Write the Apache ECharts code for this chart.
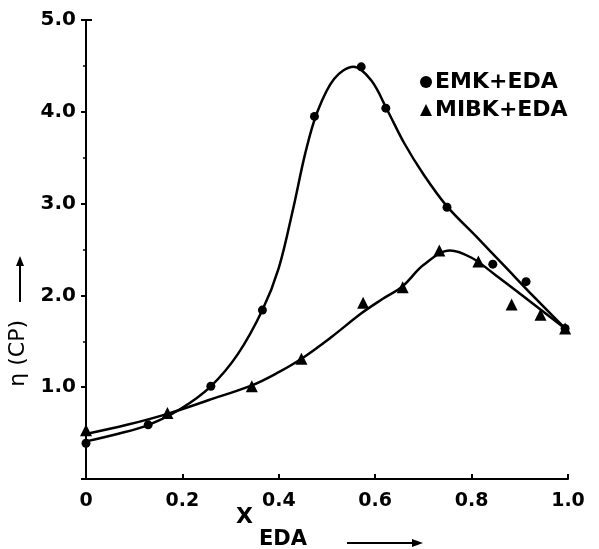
<!DOCTYPE html>
<html>
<head>
<meta charset="utf-8">
<script src="https://cdn.jsdelivr.net/npm/echarts@6/dist/echarts.min.js"></script>
<style>
  html, body { margin: 0; padding: 0; background: #fff; }
  #chart { width: 599px; height: 549px; }
</style>
</head>
<body>
<div id="chart"></div>
<script>
// measured points (x = mole fraction EDA, y = viscosity in cP)
const emkPoints = [[0, 0.39], [0.129, 0.59], [0.259, 1.01], [0.366, 1.84], [0.474, 3.95], [0.571, 4.49], [0.622, 4.04], [0.749, 2.96], [0.844, 2.34], [0.913, 2.15], [0.994, 1.64]]
const mibkPoints = [[0, 0.53], [0.169, 0.72], [0.344, 1.01], [0.447, 1.31], [0.575, 1.92], [0.657, 2.09], [0.733, 2.49], [0.814, 2.37], [0.883, 1.9], [0.943, 1.79], [0.994, 1.64]]
// drawn (hand fitted) curves
const emkCurve = [[0, 0.41], [0.065, 0.49], [0.13, 0.59], [0.195, 0.76], [0.259, 1.01], [0.315, 1.36], [0.366, 1.84], [0.4, 2.3], [0.43, 2.95], [0.455, 3.55], [0.48, 4.0], [0.515, 4.36], [0.555, 4.49], [0.592, 4.34], [0.625, 4.02], [0.66, 3.66], [0.7, 3.32], [0.749, 2.97], [0.81, 2.64], [0.87, 2.31], [0.93, 1.98], [0.994, 1.64]]
const mibkCurve = [[0, 0.49], [0.085, 0.59], [0.169, 0.71], [0.255, 0.86], [0.344, 1.02], [0.395, 1.15], [0.447, 1.31], [0.51, 1.55], [0.57, 1.8], [0.615, 1.96], [0.657, 2.1], [0.7, 2.33], [0.755, 2.49], [0.8, 2.41], [0.85, 2.22], [0.92, 1.94], [0.994, 1.64]]

const xTicks = ['0', '0.2', '0.4', '0.6', '0.8', '1.0']
const yTicks = ['', '1.0', '2.0', '3.0', '4.0', '5.0']

const chart = echarts.init(document.getElementById('chart'))
const font = 'DejaVu Sans'
const option = {
  backgroundColor: '#fff',
  animation: false,
  grid: { left: 86, right: 31, top: 20, bottom: 70 },
  legend: {
    orient: 'vertical',
    left: 415,
    top: 66,
    itemGap: 6,
    itemWidth: 12,
    itemHeight: 12,
    data: [
      { name: 'EMK+EDA', icon: 'circle', itemStyle: { color: '#000', opacity: 1 } },
      { name: 'MIBK+EDA', icon: 'triangle', itemStyle: { color: '#000', opacity: 1 } },
    ],
    textStyle: { fontFamily: font, fontWeight: 'bold', fontSize: 22, color: '#000', padding: [0, 0, 0, -2] },
  },
  xAxis: {
    type: 'value',
    min: 0,
    max: 1,
    interval: 0.2,
    splitLine: { show: false },
    axisLine: { lineStyle: { color: '#000', width: 2 } },
    axisTick: { inside: true, length: 5, lineStyle: { color: '#000', width: 2 } },
    axisLabel: {
      margin: 13,
      color: '#000',
      fontFamily: font,
      fontWeight: 'bold',
      fontSize: 19,
      formatter: function (v) {
        return xTicks[Math.round(v / 0.2)]
      },
    },
  },
  yAxis: {
    type: 'value',
    min: 0,
    max: 5,
    interval: 1,
    splitLine: { show: false },
    axisLine: { show: true, lineStyle: { color: '#000', width: 2 } },
    axisTick: { show: true, inside: false, length: 5, lineStyle: { color: '#000', width: 2 } },
    minorTick: { show: true, splitNumber: 2, length: 3, lineStyle: { color: '#000', width: 1.5 } },
    axisLabel: {
      margin: 10,
      color: '#000',
      fontFamily: font,
      fontWeight: 'bold',
      fontSize: 20,
      formatter: function (v) {
        return yTicks[Math.round(v)]
      },
    },
  },
  series: [
    {
      name: 'emk curve',
      type: 'line',
      data: emkCurve,
      smooth: 0.35,
      showSymbol: false,
      lineStyle: { color: '#000', width: 2.5 },
    },
    {
      name: 'mibk curve',
      type: 'line',
      data: mibkCurve,
      smooth: 0.35,
      showSymbol: false,
      lineStyle: { color: '#000', width: 2.5 },
    },
    {
      name: 'EMK+EDA',
      type: 'scatter',
      data: emkPoints,
      symbol: 'circle',
      symbolSize: 9,
      itemStyle: { color: '#000', opacity: 1 },
    },
    {
      name: 'MIBK+EDA',
      type: 'scatter',
      data: mibkPoints,
      symbol: 'triangle',
      symbolSize: 12,
      itemStyle: { color: '#000', opacity: 1 },
    },
  ],
  graphic: [
    // top tick of y axis
    { type: 'line', shape: { x1: 86, y1: 20, x2: 92, y2: 20 }, style: { stroke: '#000', lineWidth: 2 } },
    // y axis title, rotated
    {
      type: 'text',
      left: 7,
      top: 320,
      rotation: Math.PI / 2,
      style: { text: 'η (CP)', font: '22px "DejaVu Sans"', fill: '#000' },
    },
    {
      type: 'line',
      shape: { x1: 20, y1: 302, x2: 20, y2: 262 },
      style: { stroke: '#000', lineWidth: 2 },
    },
    {
      type: 'polygon',
      shape: { points: [[20, 256], [16, 266], [24, 266]] },
      style: { fill: '#000' },
    },
    // x axis title with subscript
    { type: 'text', left: 236, top: 506, style: { text: 'X', font: 'bold 22px "DejaVu Sans"', fill: '#000' } },
    { type: 'text', left: 259, top: 529, style: { text: 'EDA', font: 'bold 21px "DejaVu Sans"', fill: '#000' } },
    { type: 'line', shape: { x1: 347, y1: 543, x2: 414, y2: 543 }, style: { stroke: '#000', lineWidth: 2 } },
    { type: 'polygon', shape: { points: [[423, 543], [412, 539], [412, 547]] }, style: { fill: '#000' } },
  ],
}
chart.setOption(option)
</script>
</body>
</html>
